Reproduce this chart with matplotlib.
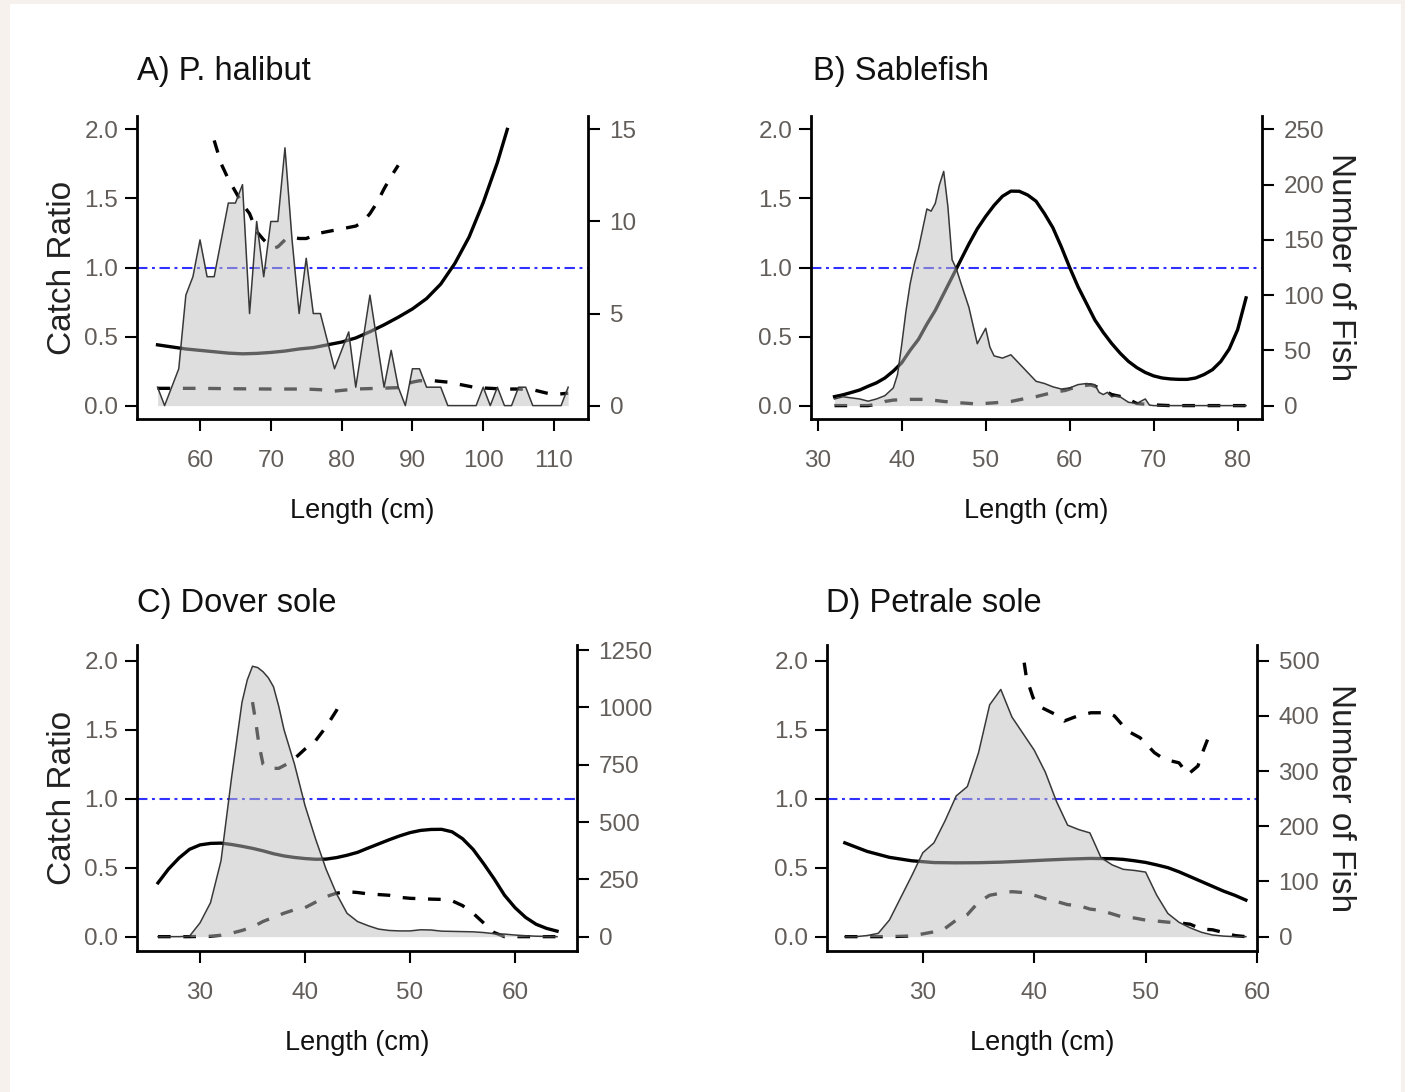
import matplotlib
matplotlib.use("Agg")
import matplotlib.pyplot as plt
from matplotlib.patches import Rectangle

plt.rcParams['font.family'] = ['Liberation Sans', 'DejaVu Sans']

# ---------------- data ----------------
# A) P. halibut
lenA_hist = list(range(54, 113))
fishA = [1, 0, 1, 2, 6, 7, 9, 7, 7, 9, 11, 11, 12, 5, 10, 7, 10, 10, 14, 9,
         5, 8, 5, 5, 3.5, 2, 3, 4, 1, 3.5, 6, 3.5, 1, 3, 1, 0, 2, 2, 1, 1,
         1, 0, 0, 0, 0, 0, 1, 0, 1, 0, 0, 1, 1, 0, 0, 0, 0, 0, 1]
lenA_cr = [54, 56, 58, 60, 62, 64, 66, 68, 70, 72, 74, 76, 78, 80, 82, 84, 86,
           88, 90, 92, 94, 96, 98, 100, 102, 103.4]
ratioA = [0.44, 0.425, 0.41, 0.40, 0.39, 0.38, 0.375, 0.378, 0.385, 0.395,
          0.41, 0.42, 0.44, 0.46, 0.49, 0.535, 0.585, 0.64, 0.70, 0.775, 0.88,
          1.03, 1.22, 1.47, 1.76, 2.0]
lenA_lo = [54, 60, 65, 70, 75, 77, 79, 80, 82, 85, 88, 90, 91, 93, 95, 97, 99,
           101, 103, 105, 107, 109, 110, 112]
lowA = [0.125, 0.125, 0.122, 0.12, 0.12, 0.115, 0.105, 0.11, 0.12, 0.125, 0.13,
        0.17, 0.18, 0.18, 0.17, 0.15, 0.13, 0.125, 0.12, 0.12, 0.115, 0.09,
        0.08, 0.09]
lenA_up = [62, 63, 64, 65, 66, 67, 68, 69, 69.6, 70.4, 71, 72, 73, 74, 75, 76,
           77, 78, 79, 80, 81, 82, 83, 84, 85, 86, 87, 88]
upA = [1.92, 1.75, 1.64, 1.55, 1.46, 1.39, 1.26, 1.20, 1.17, 1.14, 1.15, 1.20,
       1.22, 1.21, 1.21, 1.23, 1.25, 1.26, 1.27, 1.28, 1.29, 1.30, 1.33, 1.39,
       1.47, 1.57, 1.66, 1.74]

# B) Sablefish
lenB_hist = [32, 33, 34, 35, 36, 37, 38, 39, 39.5, 40, 40.5, 41, 41.5, 42, 42.5,
             43, 43.5, 44, 44.5, 45, 45.5, 46, 46.5, 47, 48, 49, 50, 50.5, 51,
             52, 53, 54, 55, 56, 57, 58, 59, 60, 61, 62, 63, 63.5, 64, 64.5, 65,
             65.5, 66, 67, 68, 69, 69.5, 70, 71, 81]
fishB = [6, 8, 7, 6, 4, 6, 9, 16, 28, 55, 85, 110, 128, 142, 160, 178, 176, 183,
         200, 212, 180, 132, 124, 112, 89, 56, 70, 53, 45, 43, 46, 38, 30, 22,
         20, 17, 15, 16, 19, 20, 19, 12, 10, 12, 8, 9, 8, 3, 2, 6, 0.5, 0, 0, 0]
lenB_cr = list(range(32, 82))
ratioB = [0.065, 0.078, 0.095, 0.113, 0.14, 0.165, 0.2, 0.25, 0.31, 0.4, 0.48,
          0.59, 0.69, 0.81, 0.93, 1.05, 1.17, 1.28, 1.37, 1.45, 1.516, 1.553,
          1.552, 1.525, 1.48, 1.39, 1.288, 1.15, 1.0, 0.86, 0.74, 0.62, 0.53,
          0.45, 0.38, 0.32, 0.275, 0.24, 0.215, 0.2, 0.193, 0.19, 0.19, 0.2,
          0.225, 0.26, 0.32, 0.41, 0.55, 0.78]
lenB_lo = [32, 34, 36, 37, 38, 39, 41, 43, 45, 47, 49, 51, 53, 55, 56, 58, 59.5,
           61, 62.5, 63.5, 65, 66.5, 68, 70, 72, 81]
lowB = [0.0, 0.0, 0.0, 0.01, 0.03, 0.04, 0.045, 0.045, 0.03, 0.02, 0.012, 0.02,
        0.03, 0.055, 0.065, 0.095, 0.11, 0.14, 0.15, 0.13, 0.08, 0.06, 0.015,
        0.005, 0.0, 0.0]

# C) Dover sole
lenC_hist = [26, 27, 28, 29, 30, 31, 32, 33, 34, 34.5, 35, 35.5, 36, 36.5, 37,
             37.5, 38, 39, 40, 41, 42, 43, 44, 45, 46, 47, 48, 49, 50, 51, 52,
             53, 54, 55, 56, 57, 58, 59, 60, 61, 62, 63, 64]
fishC = [0, 0, 0, 2, 60, 148, 331, 692, 1023, 1120, 1180, 1174, 1156, 1130,
         1090, 1005, 903, 752, 572, 427, 295, 187, 102, 66, 48, 33, 27, 25, 25,
         30, 29, 24, 23, 22, 21, 18, 13, 11, 7, 4, 2, 1, 0]
lenC_cr = list(range(26, 65))
ratioC = [0.39, 0.49, 0.57, 0.633, 0.665, 0.676, 0.678, 0.668, 0.655, 0.64,
          0.622, 0.601, 0.585, 0.574, 0.566, 0.561, 0.562, 0.573, 0.59, 0.611,
          0.642, 0.672, 0.702, 0.73, 0.754, 0.77, 0.777, 0.778, 0.76, 0.71,
          0.633, 0.53, 0.42, 0.30, 0.21, 0.14, 0.09, 0.06, 0.04]
lenC_lo = [26, 29, 31, 32, 33, 34, 35, 36, 37, 38, 39, 40, 41, 42, 43, 44, 45,
           46, 47, 48, 49, 50, 51, 52, 53, 54, 55, 56, 57, 58, 59, 60, 64]
lowC = [0.0, 0.0, 0.003, 0.01, 0.025, 0.045, 0.07, 0.11, 0.14, 0.17, 0.195,
        0.21, 0.25, 0.29, 0.315, 0.326, 0.32, 0.31, 0.305, 0.30, 0.285, 0.278,
        0.275, 0.272, 0.27, 0.26, 0.225, 0.17, 0.10, 0.03, 0.0, 0.0, 0.0]
lenC_up = [35, 35.3, 35.6, 36, 36.5, 37, 37.5, 38, 38.5, 39, 40, 41, 42, 43,
           43.5]
upC = [1.70, 1.56, 1.40, 1.25, 1.22, 1.22, 1.22, 1.24, 1.26, 1.29, 1.36, 1.42,
       1.52, 1.64, 1.72]

# D) Petrale sole
lenD_hist = list(range(23, 60))
fishD = [0, 0, 2, 6, 30, 70, 110, 152, 170, 210, 255, 272, 333, 420, 448, 398,
         368, 338, 298, 245, 202, 194, 188, 143, 130, 122, 120, 117, 75, 42, 26,
         16, 8, 3, 1, 0, 0]
lenD_cr = [23, 25, 27, 29, 31, 33, 35, 37, 39, 41, 43, 45, 47, 48, 49, 50, 51,
           52, 53, 54, 55, 56, 57, 58, 59]
ratioD = [0.68, 0.618, 0.575, 0.55, 0.537, 0.535, 0.536, 0.54, 0.547, 0.555,
          0.562, 0.567, 0.565, 0.56, 0.55, 0.538, 0.52, 0.50, 0.47, 0.435, 0.40,
          0.365, 0.33, 0.30, 0.265]
lenD_lo = [23, 25, 27, 29, 30, 31, 32, 33, 34, 35, 36, 37, 38, 39, 40, 41, 42,
           43, 44, 45, 46, 47, 48, 49, 50, 51, 52, 53, 54, 55, 56, 57, 58, 59]
lowD = [0.0, 0.0, 0.0, 0.005, 0.02, 0.035, 0.06, 0.12, 0.16, 0.25, 0.30, 0.315,
        0.326, 0.32, 0.30, 0.275, 0.255, 0.232, 0.225, 0.20, 0.19, 0.165, 0.14,
        0.135, 0.12, 0.113, 0.105, 0.10, 0.09, 0.055, 0.05, 0.03, 0.008, 0.0]
lenD_up = [39.1, 39.3, 39.9, 40.4, 41.9, 42.7, 43.9, 45.1, 46.6, 47.2, 48.4,
           49.5, 50.8, 51.7, 53, 53.8, 54.7, 55.1, 55.8]
upD = [1.986, 1.877, 1.732, 1.671, 1.611, 1.563, 1.60, 1.623, 1.623, 1.60,
       1.49, 1.442, 1.333, 1.285, 1.26, 1.176, 1.237, 1.333, 1.478]

titles = ["A) P. halibut", "B) Sablefish", "C) Dover sole", "D) Petrale sole"]
xlabel = "Length (cm)"
ylabel_left = "Catch Ratio"
ylabel_right = "Number of Fish"

# ---------------- layout ----------------
W, H = 1405, 1092
fig = plt.figure(figsize=(W / 100, H / 100), dpi=100)
fig.patch.set_facecolor('#f6f1ec')
fig.add_artist(Rectangle((10 / W, 0), (1401 - 10) / W, (H - 4) / H,
                         transform=fig.transFigure, facecolor='white',
                         edgecolor='none', zorder=0))


def rect(l, r, t, b):
    return [l / W, 1 - b / H, (r - l) / W, (b - t) / H]


def fx(x):
    return x / W


def fy(y):
    return 1 - y / H


TICKCOL = '#625d59'
BLUE = '#3030ff'

panels = [
    dict(rect=(137, 588, 116, 419), xlim=(51.1, 114.8), ylim=(-0.097, 2.097),
         factor=7.5, xticks=[60, 70, 80, 90, 100, 110], rticks=[0, 5, 10, 15],
         hx=lenA_hist, hn=fishA, cx=lenA_cr, cy=ratioA, lx=lenA_lo, ly=lowA,
         ux=lenA_up, uy=upA, title=(137, 80), left=True),
    dict(rect=(811, 1262, 116, 419), xlim=(29.2, 82.9), ylim=(-0.097, 2.097),
         factor=125, xticks=[30, 40, 50, 60, 70, 80],
         rticks=[0, 50, 100, 150, 200, 250],
         hx=lenB_hist, hn=fishB, cx=lenB_cr, cy=ratioB, lx=lenB_lo, ly=lowB,
         ux=None, uy=None, title=(813, 80), left=False),
    dict(rect=(137, 577, 645, 951), xlim=(24.0, 65.9), ylim=(-0.104, 2.114),
         factor=602, xticks=[30, 40, 50, 60],
         rticks=[0, 250, 500, 750, 1000, 1250],
         hx=lenC_hist, hn=fishC, cx=lenC_cr, cy=ratioC, lx=lenC_lo, ly=lowC,
         ux=lenC_up, uy=upC, title=(137, 612), left=True),
    dict(rect=(827, 1257, 645, 951), xlim=(21.4, 60.0), ylim=(-0.104, 2.114),
         factor=250, xticks=[30, 40, 50, 60],
         rticks=[0, 100, 200, 300, 400, 500],
         hx=lenD_hist, hn=fishD, cx=lenD_cr, cy=ratioD, lx=lenD_lo, ly=lowD,
         ux=lenD_up, uy=upD, title=(826, 612), left=False),
]

for p, title in zip(panels, titles):
    l, r, t, b = p['rect']
    ax = fig.add_axes(rect(l, r, t, b))
    ax.set_xlim(*p['xlim'])
    ax.set_ylim(*p['ylim'])
    ax.axhline(1.0, color=BLUE, lw=1.5, ls=(0, (5, 2.2, 1.4, 2.2)), zorder=2)
    ax.plot(p['cx'], p['cy'], color='black', lw=2.4, solid_joinstyle='round',
            zorder=3)
    ax.plot(p['lx'], p['ly'], color='black', lw=2.4, ls=(0, (3.8, 3.8)),
            zorder=3)
    if p['ux'] is not None:
        ax.plot(p['ux'], p['uy'], color='black', lw=2.4, ls=(0, (3.8, 3.8)),
                zorder=3)
    ax.set_xticks(p['xticks'])
    ax.set_yticks([0, 0.5, 1.0, 1.5, 2.0])
    ax.set_yticklabels(['0.0', '0.5', '1.0', '1.5', '2.0'])
    for s in ['top', 'right']:
        ax.spines[s].set_visible(False)
    for s in ['left', 'bottom']:
        ax.spines[s].set_linewidth(2.0)
    ax.tick_params(axis='both', direction='out', length=8.5, width=1.5,
                   labelsize=17.5, labelcolor=TICKCOL, color='black')
    ax.tick_params(axis='x', pad=14)
    ax.tick_params(axis='y', pad=5)

    ax2 = ax.twinx()
    f = p['factor']
    ax2.set_ylim(p['ylim'][0] * f, p['ylim'][1] * f)
    ax2.fill_between(p['hx'], 0, p['hn'], color='#bebebe', alpha=0.5, lw=0)
    ax2.plot(p['hx'], p['hn'], color='#383838', lw=1.1)
    ax2.set_yticks(p['rticks'])
    for s in ['top', 'left', 'bottom']:
        ax2.spines[s].set_visible(False)
    ax2.spines['right'].set_linewidth(2.0)
    ax2.tick_params(axis='y', direction='out', length=8.5, width=1.5,
                    labelsize=17.5, labelcolor=TICKCOL, color='black', pad=7)

    # texts
    fig.text(fx(p['title'][0]), fy(p['title'][1]), title, fontsize=23.5,
             ha='left', va='baseline', color='#111111')
    fig.text(fx((l + r) / 2), fy(518 if b < 500 else 1050), xlabel,
             fontsize=19.5, ha='center', va='baseline', color='#111111')
    yc = (t + b) / 2
    if p['left']:
        fig.text(fx(71), fy(yc), ylabel_left, fontsize=24, rotation=90,
                 rotation_mode='anchor', ha='center', va='baseline',
                 color='#222222')
    else:
        fig.text(fx(1332), fy(yc), ylabel_right, fontsize=24, rotation=270,
                 rotation_mode='anchor', ha='center', va='baseline',
                 color='#222222')

fig.savefig('out.png', dpi=100, facecolor=fig.get_facecolor())
